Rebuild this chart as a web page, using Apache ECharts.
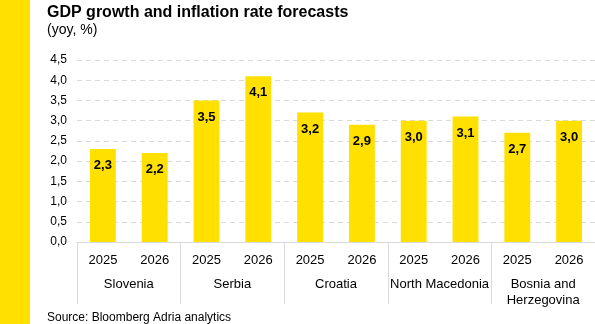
<!DOCTYPE html>
<html><head><meta charset="utf-8">
<script src="https://cdn.jsdelivr.net/npm/echarts@6/dist/echarts.min.js"></script>
<style>html,body{margin:0;padding:0;background:#fff}#c{width:595px;height:324px}</style>
</head><body><div id="c"></div>
<script>
const years = ['2025','2026','2025','2026','2025','2026','2025','2026','2025','2026'];
const countries = ['Slovenia','Serbia','Croatia','North Macedonia','Bosnia and\nHerzegovina'];
const values = [2.3, 2.2, 3.5, 4.1, 3.2, 2.9, 3.0, 3.1, 2.7, 3.0];
const yTicks = {min: 0, max: 4.5, interval: 0.5};
const YELLOW = '#FFE000';
const FONT = '"Liberation Sans", Arial, sans-serif';
const chart = echarts.init(document.getElementById('c'), null, {renderer: 'canvas'});
chart.setOption({
  animation: false,
  grid: {left: 77, right: -5, top: 60, bottom: 82, containLabel: false},
  graphic: [
    {type: 'rect', left: 0, top: 0, shape: {width: 30, height: 324}, style: {fill: YELLOW}},
    {type: 'text', left: 47, top: 5, style: {text: 'GDP growth and inflation rate forecasts', font: 'bold 16px ' + FONT, fill: '#000'}},
    {type: 'text', left: 47, top: 23, style: {text: '(yoy, %)', font: '14px ' + FONT, fill: '#000'}},
    {type: 'text', left: 47, top: 312, style: {text: 'Source: Bloomberg Adria analytics', font: '12px ' + FONT, fill: '#000'}}
  ],
  xAxis: [
    {type: 'category', data: years, position: 'bottom',
     axisLine: {show: true, lineStyle: {color: '#d9d9d9', width: 1}},
     axisTick: {show: false},
     axisLabel: {color: '#000', fontSize: 13, fontFamily: FONT, margin: 12, interval: 0}},
    {type: 'category', data: countries, position: 'bottom',
     axisLine: {show: false},
     axisTick: {show: true, length: 62, interval: 0, lineStyle: {color: '#d9d9d9'}},
     axisLabel: {color: '#000', fontSize: 13, fontFamily: FONT, margin: 34, interval: 0, lineHeight: 16, verticalAlign: 'top'}}
  ],
  yAxis: {type: 'value', min: yTicks.min, max: yTicks.max, interval: yTicks.interval,
    axisLine: {show: false}, axisTick: {show: false},
    axisLabel: {color: '#000', fontSize: 12, fontFamily: FONT, margin: 10,
      formatter: v => v.toFixed(1).replace('.', ',')},
    splitLine: {lineStyle: {color: '#d9d9d9', type: [5, 4], width: 1}}},
  series: [{type: 'bar', data: values, xAxisIndex: 0, barWidth: '50%',
    itemStyle: {color: YELLOW},
    label: {show: true, position: 'insideTop', distance: 10, color: '#000', fontWeight: 'bold', fontSize: 13, fontFamily: FONT,
      formatter: p => p.value.toFixed(1).replace('.', ',')}}]
});
</script></body></html>
